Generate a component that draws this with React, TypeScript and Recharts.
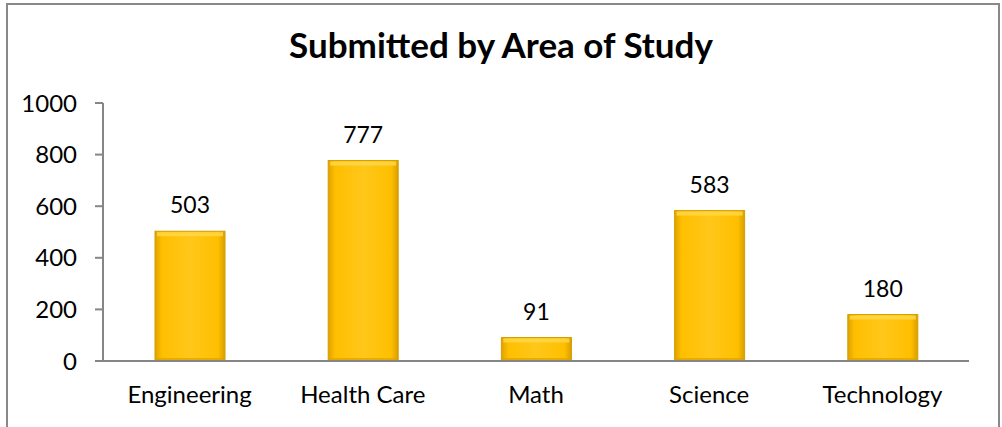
import { Bar, BarChart, LabelList, XAxis, YAxis } from "recharts";

const AREAS = ["Engineering", "Health Care", "Math", "Science", "Technology"];
const SUBMITTED = [503, 777, 91, 583, 180];
const Y_TICKS = [0, 200, 400, 600, 800, 1000];
const BOUNDARY_TICKS = [0, 1, 2, 3, 4, 5];

const FONT = "Lato, 'Open Sans', sans-serif";
const AXIS_COLOR = "#868686";
const TICK_TEXT = { fontSize: 24, fill: "#000", fontFamily: FONT };

const data = AREAS.map((name, i) => ({ name, value: SUBMITTED[i] }));

// gold bar with a bit of bevel: darker sides, lighter top strip
function GoldBar(props: any) {
  const { x, y, width, height } = props;
  if (!height || height <= 0) return null;
  return (
    <g>
      <rect x={x} y={y} width={width} height={height} fill="url(#goldSide)" stroke="#D39E00" strokeWidth={1} />
      <rect x={x + 2} y={y + 1} width={width - 4} height={Math.min(4, height - 2)} fill="#FFD84A" opacity={0.8} />
      <rect x={x + 1} y={y + height - 3} width={width - 2} height={2} fill="#DDA300" opacity={0.7} />
    </g>
  );
}

export default function App() {
  return (
    <div style={{ position: "relative", width: 1002, height: 427, overflow: "hidden", background: "#fff" }}>
      <style>{"body { margin: 0; }"}</style>
      <div style={{ position: "absolute", left: 0, top: 0 }}>
        <BarChart width={1002} height={427} data={data} margin={{ top: 103, right: 33, bottom: 25, left: 43 }}>
          <defs>
            <linearGradient id="goldSide" x1="0" y1="0" x2="1" y2="0">
              <stop offset="0%" stopColor="#E0A200" />
              <stop offset="10%" stopColor="#FFBF00" />
              <stop offset="50%" stopColor="#FFC71A" />
              <stop offset="90%" stopColor="#FFBF00" />
              <stop offset="100%" stopColor="#DA9E00" />
            </linearGradient>
          </defs>
          <XAxis
            xAxisId="b"
            dataKey="name"
            height={40}
            interval={0}
            axisLine={false}
            tickLine={false}
            tickSize={0}
            tickMargin={24}
            tick={TICK_TEXT}
          />
          {/* thin numeric axis: draws the axis line and the tick marks between categories */}
          <XAxis
            xAxisId="a"
            type="number"
            domain={[0, 5]}
            ticks={BOUNDARY_TICKS}
            interval={0}
            height={1}
            axisLine={{ stroke: AXIS_COLOR, strokeWidth: 2 }}
            tick={false}
            tickLine={{ stroke: AXIS_COLOR, strokeWidth: 2 }}
            tickSize={8}
          />
          <YAxis
            width={60}
            domain={[0, 1000]}
            ticks={Y_TICKS}
            interval={0}
            axisLine={{ stroke: AXIS_COLOR, strokeWidth: 2 }}
            tickLine={{ stroke: AXIS_COLOR, strokeWidth: 2 }}
            tickSize={8}
            tickMargin={18}
            tick={TICK_TEXT}
          />
          <Bar xAxisId="b" dataKey="value" barSize={70} shape={<GoldBar />} isAnimationActive={false}>
            <LabelList dataKey="value" position="top" offset={18} style={{ fontSize: 23, fill: "#000", fontFamily: FONT }} />
          </Bar>
        </BarChart>
      </div>
      <div
        style={{
          position: "absolute",
          left: 0,
          top: 23,
          width: 1002,
          textAlign: "center",
          fontFamily: FONT,
          fontWeight: 700,
          fontSize: 35,
          lineHeight: 1.2,
          color: "#000",
        }}
      >
        Submitted by Area of Study
      </div>
      <div
        style={{
          position: "absolute",
          left: 6,
          top: 3,
          width: 990,
          height: 440,
          border: "2px solid #898989",
          pointerEvents: "none",
        }}
      />
    </div>
  );
}
